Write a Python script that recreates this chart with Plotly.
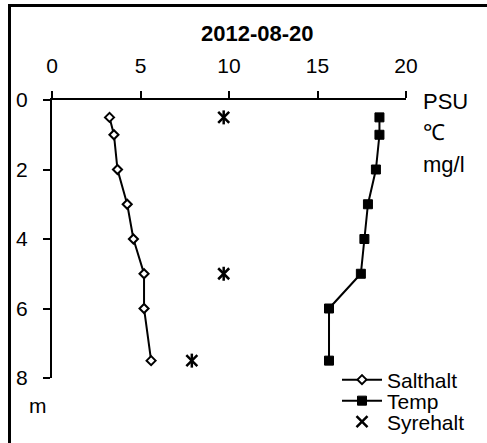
import plotly.graph_objects as go

# ---- data ----
depth_salt = [0.5, 1, 2, 3, 4, 5, 6, 7.5]
salthalt = [3.25, 3.5, 3.7, 4.25, 4.6, 5.2, 5.2, 5.6]
depth_temp = [0.5, 1, 2, 3, 4, 5, 6, 7.5]
temp = [18.5, 18.5, 18.3, 17.85, 17.65, 17.45, 15.65, 15.65]
depth_oxy = [0.5, 5, 7.5]
syrehalt = [9.7, 9.7, 7.9]
x_ticks = [0, 5, 10, 15, 20]
y_ticks = [0, 2, 4, 6, 8]
title_text = "2012-08-20"
unit_labels = ["PSU", "℃", "mg/l"]
depth_unit = "m"

W, H = 487, 443
L, R, T, B = 52, 81, 100, 65
PW, PH = W - L - R, H - T - B
FONT = "Liberation Sans, Arial, sans-serif"


def px(x):
    return (x - L) / PW


def py(y):
    return (H - B - y) / PH


fig = go.Figure()
fig.add_trace(go.Scatter(
    x=salthalt, y=depth_salt, name="Salthalt", mode="lines+markers",
    legend="legend",
    line=dict(color="black", width=2),
    marker=dict(symbol="diamond", size=7, color="white",
                line=dict(color="black", width=2)),
))
fig.add_trace(go.Scatter(
    x=temp, y=depth_temp, name="Temp", mode="lines+markers",
    legend="legend2",
    line=dict(color="black", width=2),
    marker=dict(symbol="square", size=9, color="black",
                line=dict(color="black", width=1)),
))
fig.add_trace(go.Scatter(
    x=syrehalt, y=depth_oxy, name="Syrehalt", mode="markers",
    legend="legend3",
    marker=dict(symbol="x-thin-open", size=11, color="black",
                line=dict(color="black", width=2.5)),
))
fig.add_trace(go.Scatter(
    x=syrehalt, y=depth_oxy, name="Syrehalt", mode="markers",
    showlegend=False,
    marker=dict(symbol="line-ns-open", size=10, color="black",
                line=dict(color="black", width=2.5)),
))

annotations = [
    dict(text="<b>%s</b>" % title_text, x=px(257), y=py(34), xref="paper", yref="paper",
         showarrow=False, xanchor="center", yanchor="middle",
         font=dict(size=22, color="black", family=FONT)),
    dict(text=depth_unit, x=px(38), y=py(405), xref="paper", yref="paper",
         showarrow=False, xanchor="center", yanchor="middle",
         font=dict(size=21, color="black", family=FONT)),
]
for lab, yy in zip(unit_labels, [101, 132, 164]):
    annotations.append(dict(text=lab, x=px(421), y=py(yy), xref="paper", yref="paper",
                            showarrow=False, xanchor="left", yanchor="middle",
                            font=dict(size=22, color="black", family=FONT)))

shapes = [
    dict(type="line", xref="paper", yref="paper", x0=px(8), x1=px(500),
         y0=py(5.5), y1=py(5.5), line=dict(color="black", width=3)),
    dict(type="line", xref="paper", yref="paper", x0=px(9.5), x1=px(9.5),
         y0=py(4), y1=py(460), line=dict(color="black", width=3)),
]


def legend_at(ycenter):
    return dict(x=px(337), y=py(ycenter), xanchor="left", yanchor="middle",
                bgcolor="rgba(0,0,0,0)", borderwidth=0,
                font=dict(size=21, family=FONT, color="black"),
                itemwidth=40, tracegroupgap=0)


fig.update_layout(
    width=W, height=H,
    margin=dict(l=L, r=R, t=T, b=B, autoexpand=False),
    paper_bgcolor="white", plot_bgcolor="white",
    font=dict(family=FONT, size=21, color="black"),
    showlegend=True,
    legend=legend_at(380),
    legend2=legend_at(401),
    legend3=legend_at(422),
    xaxis=dict(side="top", range=[0, 20], tickvals=x_ticks, showgrid=False,
               zeroline=False, showline=True, linecolor="black", linewidth=2,
               ticks="outside", ticklen=7, tickwidth=2, tickcolor="black",
               ticklabelstandoff=10, tickfont=dict(size=21), automargin=False),
    yaxis=dict(range=[8, 0], tickvals=y_ticks, showgrid=False,
               zeroline=False, showline=True, linecolor="black", linewidth=2,
               ticks="outside", ticklen=7, tickwidth=2, tickcolor="black",
               ticklabelstandoff=11, tickfont=dict(size=21), automargin=False),
    annotations=annotations,
    shapes=shapes,
)

fig.write_html("out.html", config={"displayModeBar": False},
               post_script="document.body.style.margin='0px';")
